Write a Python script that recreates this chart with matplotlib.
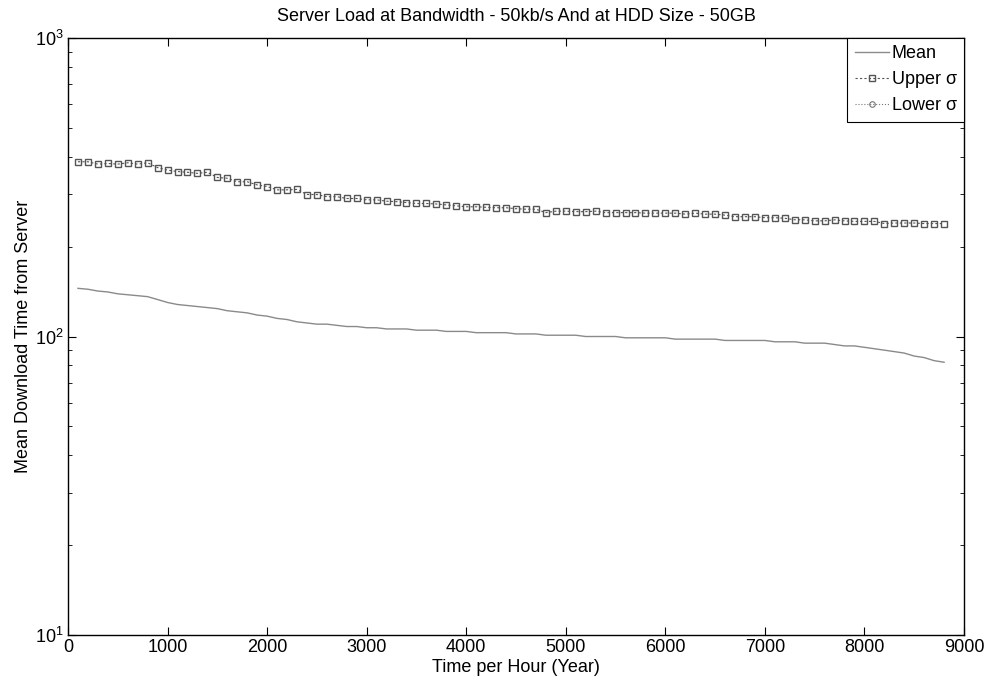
import matplotlib
matplotlib.use("Agg")
import matplotlib.pyplot as plt
import numpy as np

plt.rcParams['font.family'] = ['Liberation Sans', 'DejaVu Sans']

# hours (every 100 h over the year)
hours = np.arange(100, 8900, 100)

# mean download time
mean_time = [145, 144, 142, 141, 139, 138, 137, 136, 133, 130,
             128, 127, 126, 125, 124, 122, 121, 120, 118, 117,
             115, 114, 112, 111, 110, 110, 109, 108, 108, 107,
             107, 106, 106, 106, 105, 105, 105, 104, 104, 104,
             103, 103, 103, 103, 102, 102, 102, 101, 101, 101,
             101, 100, 100, 100, 100, 99, 99, 99, 99, 99,
             98, 98, 98, 98, 98, 97, 97, 97, 97, 97,
             96, 96, 96, 95, 95, 95, 94, 93, 93, 92,
             91, 90, 89, 88, 86, 85, 83, 82]

# mean + sigma
upper_time = [385, 385, 378, 380, 378, 382, 378, 382, 368, 361,
              357, 355, 352, 355, 341, 339, 330, 330, 322, 318,
              310, 310, 311, 299, 299, 294, 294, 290, 290, 287,
              287, 284, 283, 281, 279, 279, 278, 276, 274, 272,
              272, 271, 270, 270, 268, 267, 267, 260, 263, 263,
              262, 262, 263, 260, 260, 260, 260, 259, 259, 259,
              259, 257, 259, 257, 257, 255, 252, 252, 252, 250,
              250, 249, 246, 246, 244, 244, 246, 244, 243, 243,
              243, 239, 240, 240, 240, 239, 239, 239]

mean_arr = np.array(mean_time, dtype=float)
upper_arr = np.array(upper_time, dtype=float)
# mean - sigma (goes below zero, so it does not show on the log axis)
lower_arr = 2 * mean_arr - upper_arr

fig = plt.figure(figsize=(9.97, 6.85), dpi=100)
ax = fig.add_axes([0.0682, 0.073, 0.8987, 0.8715])

ax.plot(hours, mean_arr, '-', color='#8a8a8a', lw=1.0, label='Mean')
ax.plot(hours, upper_arr, '--s', color='#555555', lw=0.8, ms=5,
        mfc='none', mew=1.0, dashes=(2, 2), label='Upper \u03c3')
ax.plot(hours, lower_arr, ':o', color='#777777', lw=0.8, ms=4,
        mfc='none', mew=0.8, label='Lower \u03c3')

ax.set_yscale('log', nonpositive='mask')
ax.set_xlim(0, 9000)
ax.set_ylim(10, 1000)
ax.set_xticks(np.arange(0, 9001, 1000))

ax.tick_params(which='both', direction='in', top=True, right=True, labelsize=13)
ax.tick_params(which='major', length=6, pad=3)
ax.tick_params(which='minor', length=3)
for s in ax.spines.values():
    s.set_linewidth(1.0)

ax.set_title('Server Load at Bandwidth - 50kb/s And at HDD Size - 50GB',
             fontsize=13, pad=12)
ax.set_xlabel('Time per Hour (Year)', fontsize=13, labelpad=2)
ax.set_ylabel('Mean Download Time from Server', fontsize=13, labelpad=2)

leg = ax.legend(loc='upper right', fontsize=13, borderaxespad=0,
                fancybox=False, edgecolor='black', framealpha=1,
                handlelength=1.9, handletextpad=0.15, borderpad=0.4,
                labelspacing=0.5)
leg.get_frame().set_linewidth(0.8)

fig.savefig('out.png', dpi=100)
